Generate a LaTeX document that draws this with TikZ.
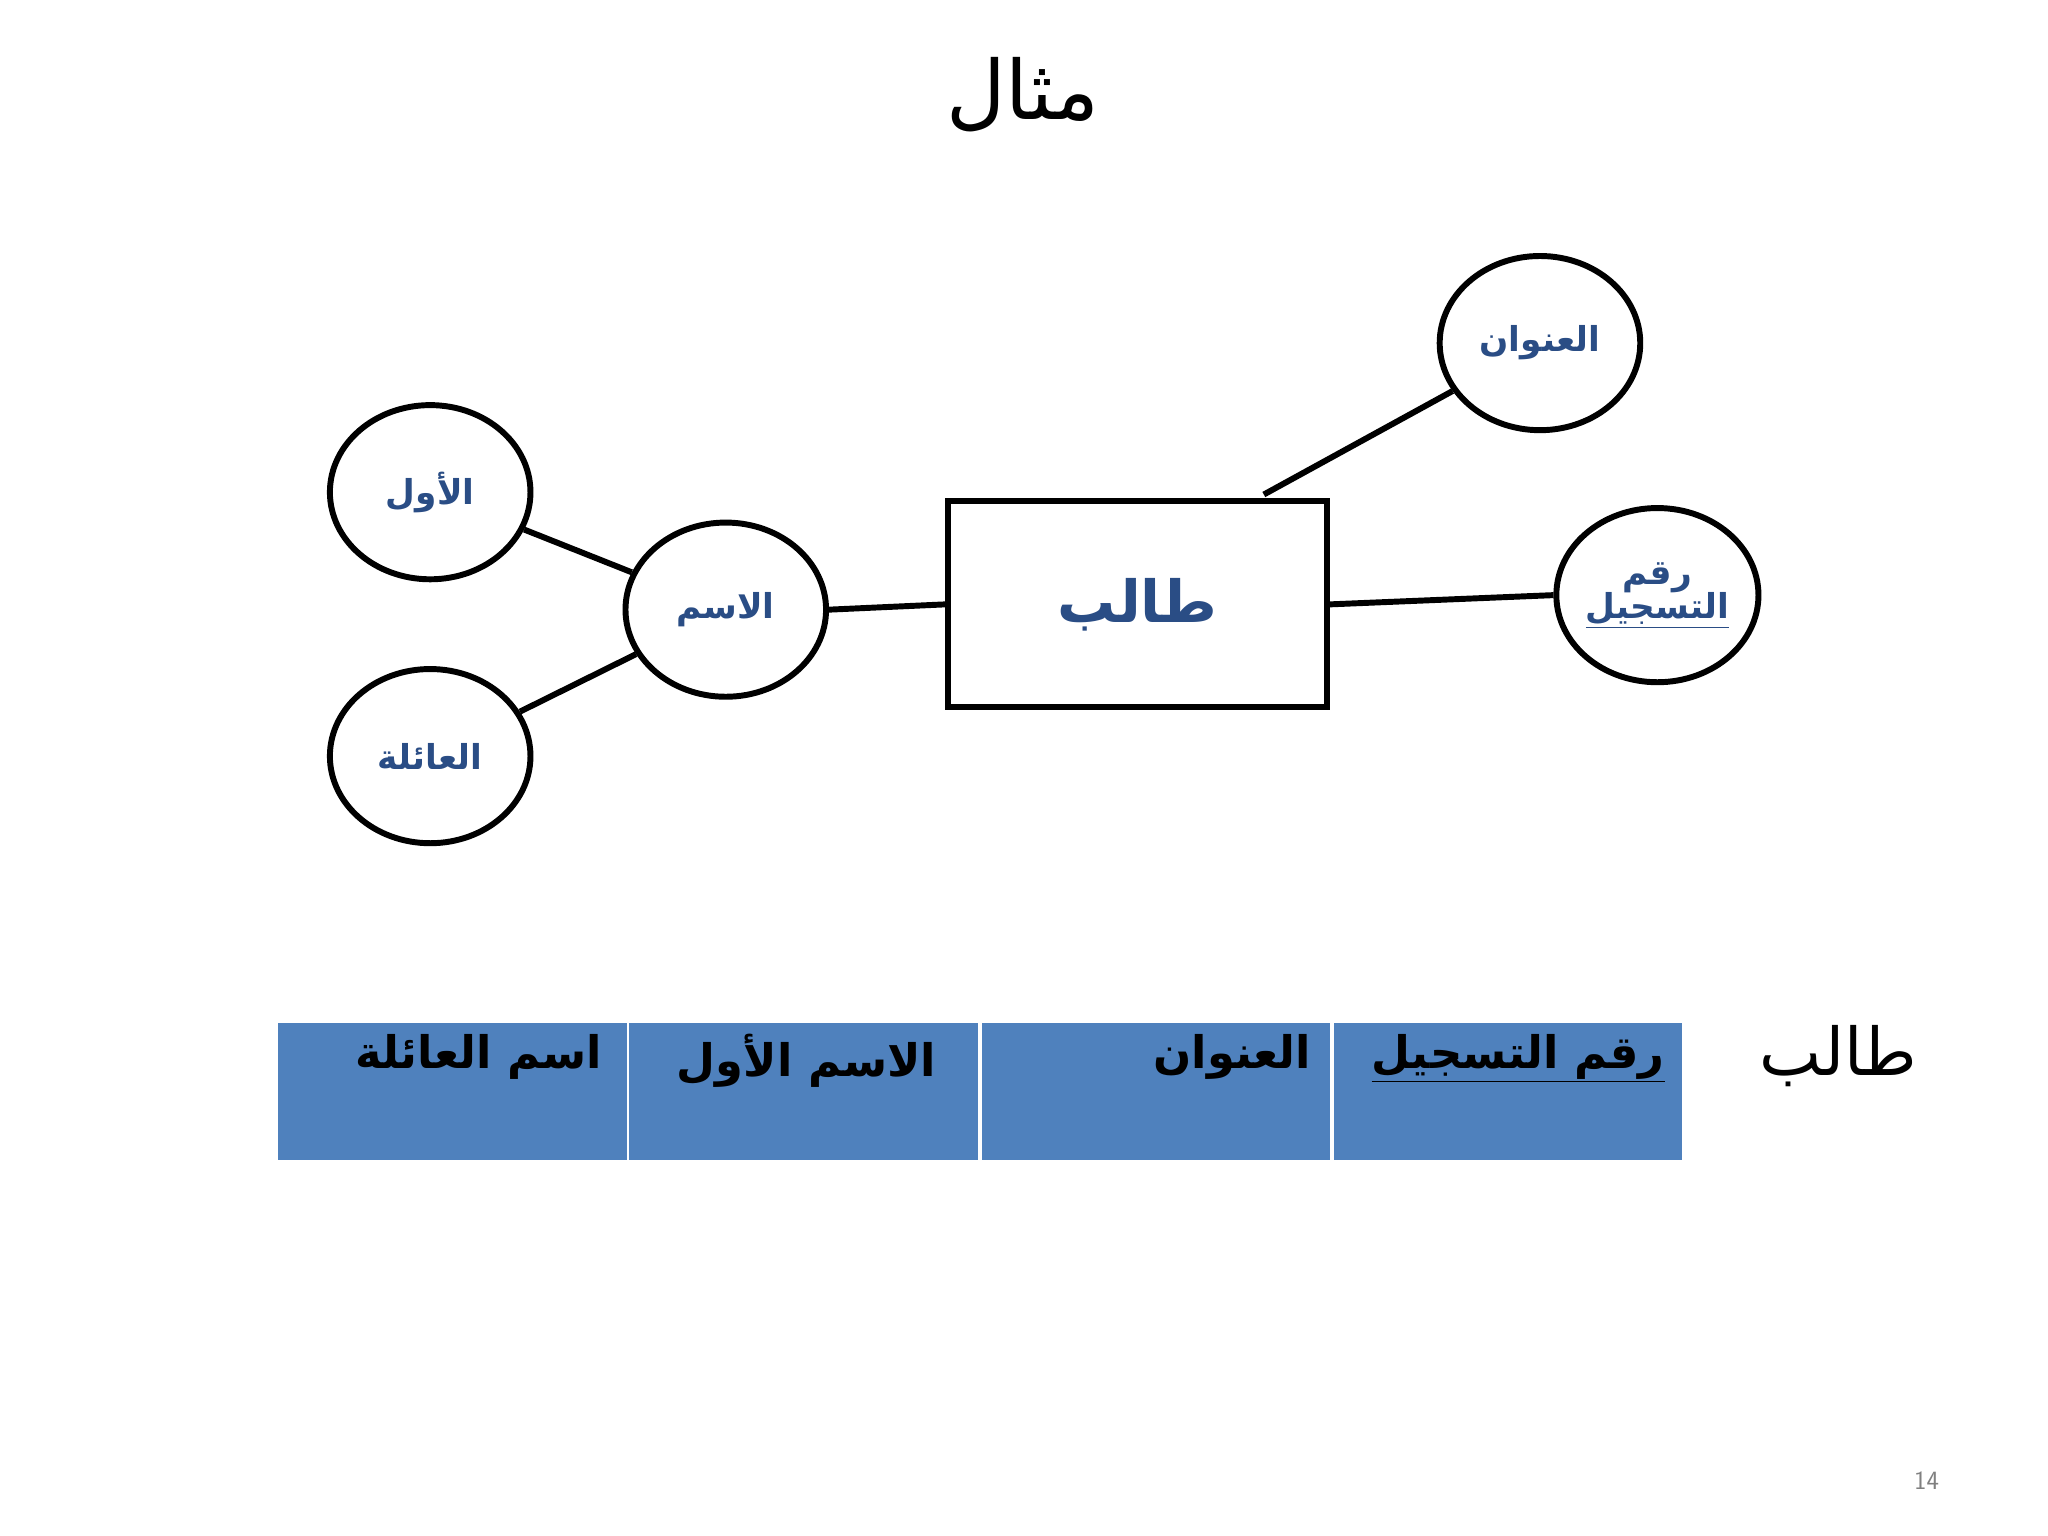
\documentclass[tikz,border=0pt]{standalone}
\usepackage{fontspec}
\TeXXeTstate=1
\newfontfamily\arabicfont[Script=Arabic]{DejaVu Sans}
\usetikzlibrary{shapes.geometric}
\definecolor{ablue}{HTML}{2A4D85}
\definecolor{tblue}{HTML}{4F81BD}
\newcommand{\ar}[1]{\arabicfont\beginR #1\endR}
\begin{document}
\begin{tikzpicture}[x=1pt,y=-1pt,
 attr/.style={draw,ellipse,line width=4.5pt,minimum width=152pt,minimum height=132pt,inner sep=0pt,text=ablue,font=\fontsize{26}{30}\selectfont\bfseries},
 conn/.style={line width=4.5pt},
 cell/.style={fill=tblue,draw=white,line width=2pt,minimum width=266pt,minimum height=106pt,anchor=north west},
 celltxt/.style={font=\fontsize{34}{40}\selectfont\bfseries,anchor=north east}]
\useasboundingbox[fill=white] (0,0) rectangle (1552,1164);
\node[font=\fontsize{62}{70}\selectfont] (title) at (775,72) {\ar{مثال}};
\node[attr] (first) at (326,373) {\ar{الأول}};
\node[attr] (family) at (326,573) {\ar{العائلة}};
\node[attr] (name) at (550,462) {\ar{الاسم}};
\node[attr] (addr) at (1167,260) {\ar{العنوان}};
\node[attr,align=center] (reg) at (1256,451) {\ar{رقم}\\[-4pt]\underline{\ar{التسجيل}}};
\node[draw,line width=4.5pt,minimum width=287pt,minimum height=156pt,text=ablue,font=\fontsize{44}{50}\selectfont\bfseries] (ent) at (862,458) {\ar{طالب}};
\draw[conn] (first) -- (name);
\draw[conn] (family) -- (name);
\draw[conn] (name.east) -- (ent.west);
\draw[conn] (ent.north east) ++(-50,-3) coordinate (c1);
\draw[conn] (c1) -- (addr);
\draw[conn] (ent.east) -- (reg.west);
\node[cell] (t4) at (209,773) {};
\node[cell] (t3) at (475,773) {};
\node[cell] (t2) at (742,773) {};
\node[cell] (t1) at (1009,773) {};
\node[celltxt] (l1) at (1265,780) {\underline{\ar{رقم التسجيل}}};
\node[celltxt] (l2) at (997,780) {\ar{العنوان}};
\node[celltxt] (l3) at (713,780) {\ar{الاسم الأول}};
\node[celltxt] (l4) at (460,780) {\ar{اسم العائلة}};
\node[font=\fontsize{50}{56}\selectfont] (tname) at (1393,800) {\ar{طالب}};
\node[text=gray,font=\fontsize{20}{24}\selectfont\sffamily] (pg) at (1460,1122) {14};
\end{tikzpicture}
\end{document}
